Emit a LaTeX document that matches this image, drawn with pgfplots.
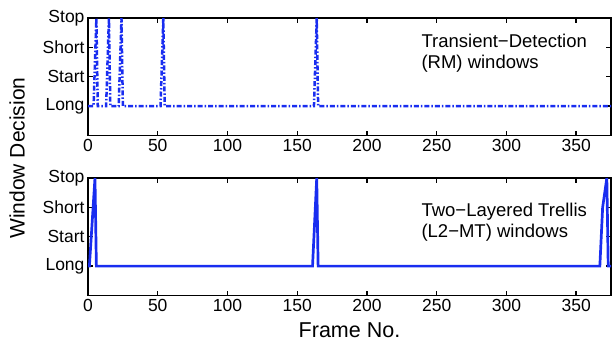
\documentclass[border=0pt]{standalone}
\usepackage{pgfplots}
\pgfplotsset{compat=1.18}
\usepackage{fontspec}
\setmainfont{Liberation Sans}
\definecolor{mblue}{RGB}{25,45,240}
\pgfplotsset{myax/.style={
  scale only axis, width=523pt, height=117.5pt,
  xmin=0, xmax=375, ymin=0, ymax=4,
  xtick={0,50,...,350}, ytick={1,2,3,4},
  yticklabels={Long,Start,Short,Stop},
  tick align=inside,
  major tick length=5pt,
  axis line style={line width=1.3pt},
  every tick/.style={black, line width=1.3pt},
  ticklabel style={font=\fontsize{17.5}{18}\selectfont},
  /pgf/number format/assume math mode=true,
  clip=true,
}}
\begin{document}
\begin{tikzpicture}[x=1pt,y=1pt]
\begin{axis}[myax, at={(88pt,-135.5pt)}, anchor=south west]
\addplot[mblue, line width=2.5pt, dash pattern=on 5pt off 2pt on 1.5pt off 2pt] coordinates {
(0,1)(4,1)(6,4)(7,1)(13,1)(15,4)(16,1)(22,1)(24,4)(25,1)(52,1)(54,4)(55,1)(162,1)(164,4)(165,1)(375,1)
};
\end{axis}
\begin{axis}[myax, at={(88pt,-295.5pt)}, anchor=south west]
\addplot[mblue, line width=2.7pt] coordinates {
(0,1)(1,1)(5,4)(6,1)(161,1)(163,3)(164,4)(165,1)(367,1)(369,3)(372,4)(373,1)(375,1)
};
\end{axis}
\node[anchor=west, align=left, font=\fontsize{18.5}{21}\selectfont] at (418,-53) {Transient−Detection\\(RM) windows};
\node[anchor=west, align=left, font=\fontsize{18.5}{21}\selectfont] at (418,-222) {Two−Layered Trellis\\(L2−MT) windows};
\node[rotate=90, font=\fontsize{21}{24}\selectfont] at (17,-158) {Window Decision};
\node[font=\fontsize{21.5}{24}\selectfont] at (349.5,-330) {Frame No.};
\pgfresetboundingbox
\path[use as bounding box] (0,0) rectangle (612,-342);
\end{tikzpicture}
\end{document}
